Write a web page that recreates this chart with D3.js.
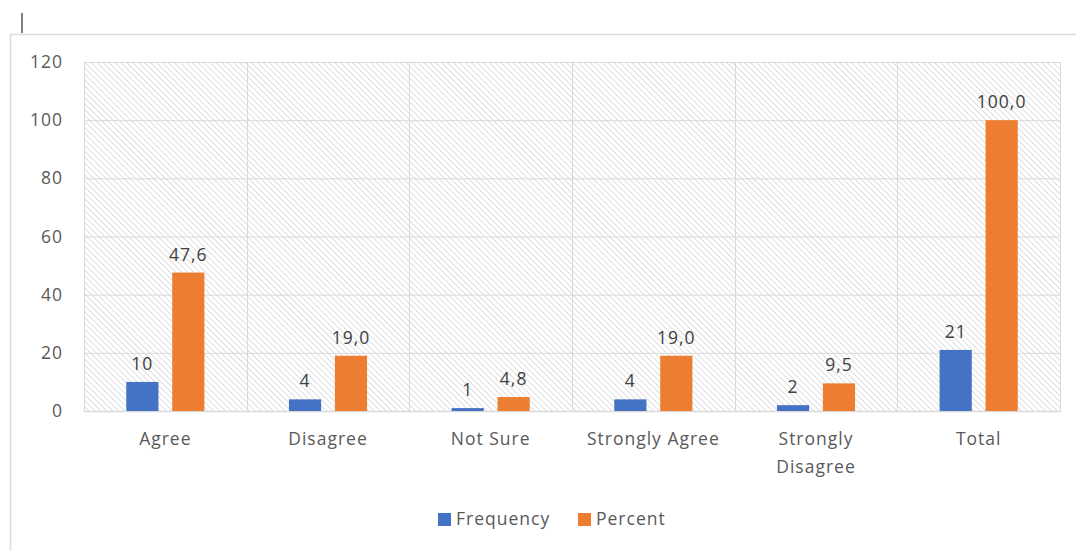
<!DOCTYPE html>
<html>
<head>
<meta charset="utf-8">
<script src="https://cdn.jsdelivr.net/npm/d3@7"></script>
<style>
  body { margin: 0; background: #fff; }
  text { font-family: 'Open Sans', 'Noto Sans', sans-serif; font-size: 17.5px; letter-spacing: 1px; }
</style>
</head>
<body>
<div id="svg-container"></div>
<script>
const categories = ['Agree', 'Disagree', 'Not Sure', 'Strongly Agree', 'Strongly Disagree', 'Total']
const frequency = [10, 4, 1, 4, 2, 21]
const percent = [47.6, 19.0, 4.8, 19.0, 9.5, 100.0]
const yTicks = [0, 20, 40, 60, 80, 100, 120]
const seriesNames = ['Frequency', 'Percent']

const blue = '#4472c4'
const orange = '#ed7d31'
const gridColor = '#d9d9d9'
const axisText = '#595959'

const svgWidth = 1076
const svgHeight = 551
const marginLeft = 84
const marginTop = 62
const width = 1060 - marginLeft
const height = 411 - marginTop

const svg = d3
  .select('#svg-container')
  .append('svg')
  .attr('width', svgWidth)
  .attr('height', svgHeight)

// hatch pattern for the plot background
const defs = svg.append('defs')
defs
  .append('pattern')
  .attr('id', 'hatch')
  .attr('patternUnits', 'userSpaceOnUse')
  .attr('width', 4.2)
  .attr('height', 4.2)
  .attr('patternTransform', 'rotate(-45)')
  .append('line')
  .attr('x1', 0)
  .attr('y1', 0)
  .attr('x2', 0)
  .attr('y2', 4.2)
  .attr('stroke', '#cacaca')
  .attr('stroke-width', 1.2)

// chart frame + stray cursor mark
svg
  .append('path')
  .attr('d', 'M10.5,551 V34.5 H1076')
  .attr('fill', 'none')
  .attr('stroke', '#dcdcdc')
  .attr('stroke-width', 1.5)
svg
  .append('line')
  .attr('x1', 22)
  .attr('x2', 22)
  .attr('y1', 13)
  .attr('y2', 33)
  .attr('stroke', '#555')
  .attr('stroke-width', 1.5)

const coreChart = svg
  .append('g')
  .attr('transform', `translate(${marginLeft}, ${marginTop})`)

const xScale = d3.scaleBand().domain(categories).range([0, width])
const yScale = d3.scaleLinear().domain([0, 120]).range([height, 0])
const xInner = d3
  .scaleBand()
  .domain(seriesNames)
  .range([0, xScale.bandwidth()])
  .paddingInner(0.3)
  .paddingOuter(0.92)

coreChart
  .append('rect')
  .attr('width', width)
  .attr('height', height)
  .attr('fill', 'url(#hatch)')

// y grid + labels
const yAxis = coreChart.append('g')
yAxis
  .call(d3.axisLeft(yScale).tickValues(yTicks).tickSize(-width).tickPadding(21))
  .call(g => g.select('.domain').remove())
  .call(g => g.selectAll('.tick line').attr('stroke', gridColor))
  .call(g =>
    g
      .selectAll('.tick text')
      .attr('fill', axisText)
      .style('font-size', '17.5px')
      .style('font-family', "'Open Sans', sans-serif"),
  )

// vertical grid lines
coreChart
  .append('g')
  .selectAll('line')
  .data([...categories.map(c => xScale(c)), width])
  .join('line')
  .attr('x1', d => Math.round(d) + 0.5)
  .attr('x2', d => Math.round(d) + 0.5)
  .attr('y1', 0)
  .attr('y2', height)
  .attr('stroke', gridColor)

// x-axis
const xAxis = coreChart
  .append('g')
  .attr('transform', `translate(0, ${height})`)
xAxis
  .call(d3.axisBottom(xScale).tickSize(0).tickPadding(22))
  .call(g => g.select('.domain').attr('stroke', gridColor).attr('stroke-width', 1.5))
  .call(g =>
    g
      .selectAll('.tick text')
      .attr('fill', axisText)
      .style('font-size', '17.5px')
      .style('font-family', "'Open Sans', sans-serif")
      .each(function (d) {
        if (d === 'Strongly Disagree') {
          const t = d3.select(this)
          t.text(null)
          t.append('tspan').attr('x', 0).text('Strongly')
          t.append('tspan').attr('x', 0).attr('dy', '1.6em').text('Disagree')
        }
      }),
  )

// bars
const rows = categories.map((c, i) => ({
  category: c,
  values: [
    { key: 'Frequency', value: frequency[i], label: String(frequency[i]), color: blue },
    { key: 'Percent', value: percent[i], label: percent[i].toFixed(1).replace('.', ','), color: orange },
  ],
}))

const groups = coreChart
  .append('g')
  .selectAll('g')
  .data(rows)
  .join('g')
  .attr('transform', d => `translate(${xScale(d.category)}, 0)`)

groups
  .selectAll('rect')
  .data(d => d.values)
  .join('rect')
  .attr('x', d => xInner(d.key))
  .attr('width', xInner.bandwidth())
  .attr('y', d => yScale(d.value))
  .attr('height', d => height - yScale(d.value))
  .attr('fill', d => d.color)

groups
  .selectAll('text')
  .data(d => d.values)
  .join('text')
  .attr('x', d => xInner(d.key) + xInner.bandwidth() / 2)
  .attr('y', d => yScale(d.value) - 12)
  .attr('text-anchor', 'middle')
  .attr('fill', '#404040')
  .text(d => d.label)

// legend
const legend = svg.append('g').attr('transform', 'translate(438, 519)')
const legendItems = [
  { name: 'Frequency', color: blue, x: 0 },
  { name: 'Percent', color: orange, x: 140 },
]
const li = legend
  .selectAll('g')
  .data(legendItems)
  .join('g')
  .attr('transform', d => `translate(${d.x}, 0)`)
li.append('rect')
  .attr('y', -6)
  .attr('width', 13)
  .attr('height', 13)
  .attr('fill', d => d.color)
li.append('text')
  .attr('x', 18)
  .attr('dy', '0.35em')
  .attr('fill', axisText)
  .text(d => d.name)
</script>
</body>
</html>
